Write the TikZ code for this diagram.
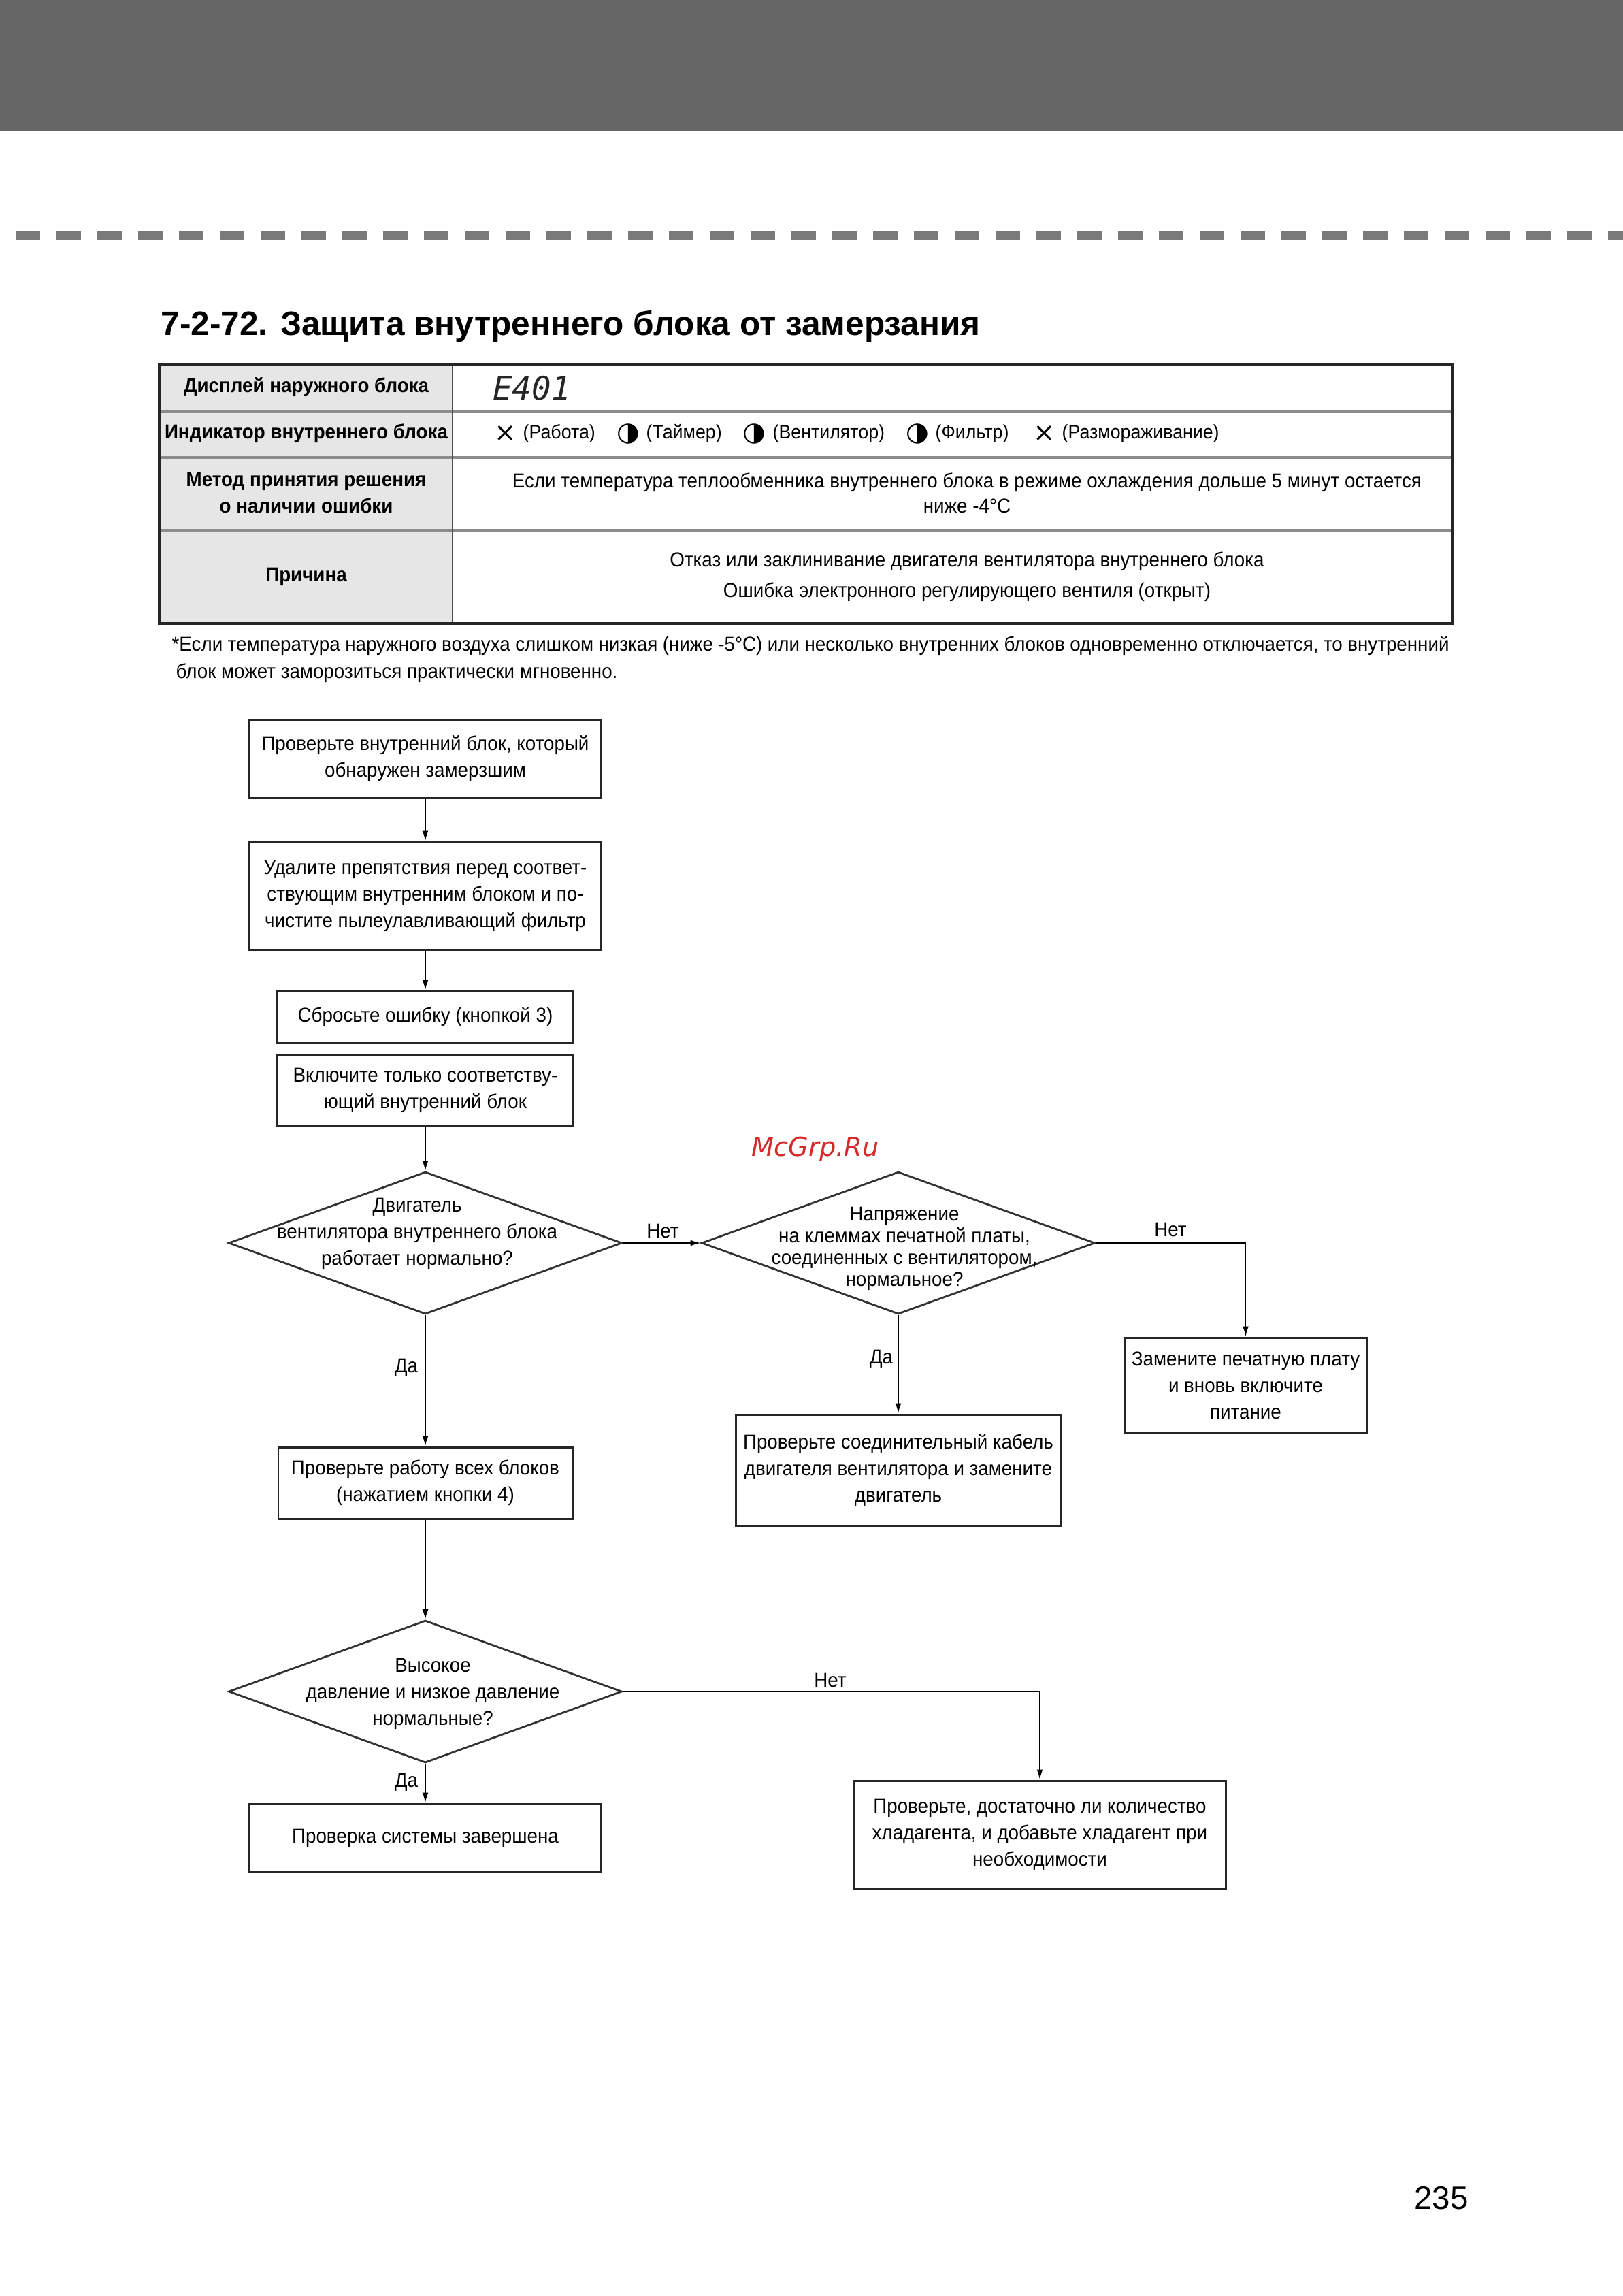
\documentclass[tikz,border=0pt]{standalone}
\usepackage{fontspec}
\setmainfont{Liberation Sans}[FakeStretch=0.94]
\newfontfamily\titlefont{Liberation Sans}
\newfontfamily\symfont{DejaVu Sans}
\newfontfamily\lcdfont{DejaVu Sans Mono}
\usetikzlibrary{arrows.meta,positioning,shapes.geometric}

\definecolor{barGray}{HTML}{666666}
\definecolor{dashGray}{HTML}{7A7A7A}
\definecolor{cellGray}{HTML}{E6E6E6}
\definecolor{ruleGray}{HTML}{8C8C8C}
\definecolor{markRed}{HTML}{D42A2A}

\newcommand{\flowfont}{\fontsize{8.4}{11.1}\selectfont}

\tikzset{
  stepbox/.style={draw=black!85, line width=0.85pt, align=center, inner sep=0pt, font=\flowfont},
  decision/.style={diamond, draw=black!80, line width=0.8pt, minimum width=5.78cm, minimum height=2.09cm, inner sep=0pt},
  asktext/.style={align=center, font=\flowfont},
  flowline/.style={line width=0.55pt, -{Latex[length=1.5mm,width=0.9mm]}},
  answer/.style={font=\flowfont},
  headcell/.style={align=center, font=\flowfont\bfseries},
  lampsym/.style={anchor=center, font=\symfont\fontsize{11}{11}\selectfont},
  lampname/.style={anchor=west, inner sep=0pt, font=\fontsize{8.1}{10}\selectfont},
}

\begin{document}
\begin{tikzpicture}[x=1cm, y=-1cm]
    % Page
    \useasboundingbox (0,0) rectangle (23.85,33.73);
    \fill[white] (0,0) rectangle (23.85,33.73);
    \fill[barGray] (0,0) rectangle (23.85,1.92);
    \draw[dashGray, line width=0.13cm, dash pattern=on 0.36cm off 0.24cm] (0.23,3.45) -- (23.85,3.45);

    % Title
    \node[anchor=base west, inner sep=0pt, font=\titlefont\fontsize{14.1}{16}\selectfont\bfseries] (title) at (2.36,4.92) {7-2-72. Защита внутреннего блока от замерзания};

    % Error table
    \fill[cellGray] (2.34,5.35) rectangle (6.65,9.16);
    \draw[ruleGray, line width=1.1pt] (2.34,6.04) -- (21.34,6.04);
    \draw[ruleGray, line width=1.1pt] (2.34,6.72) -- (21.34,6.72);
    \draw[ruleGray, line width=1.1pt] (2.34,7.79) -- (21.34,7.79);
    \draw[black!70, line width=0.6pt] (6.65,5.35) -- (6.65,9.16);
    \draw[black!85, line width=1.1pt] (2.34,5.35) rectangle (21.34,9.16);

    \node[headcell] (display) at (4.50,5.69) {Дисплей наружного блока};
    \node[headcell] (lamps) at (4.50,6.37) {Индикатор внутреннего блока};
    \node[headcell] (method) at (4.50,7.24) {Метод принятия решения\\о наличии ошибки};
    \node[headcell] (cause) at (4.50,8.47) {Причина};

    \node[anchor=west, font=\lcdfont\itshape\fontsize{13.5}{14}\selectfont, text=black!85] (code) at (7.12,5.70) {E401};

    \node[lampsym] (run) at (7.43,6.37) {×};
    \node[lampname] (runtxt) at (7.68,6.37) {(Работа)};
    \node[lampsym] (timer) at (9.23,6.37) {◑};
    \node[lampname] (timertxt) at (9.49,6.37) {(Таймер)};
    \node[lampsym] (fanlamp) at (11.08,6.37) {◑};
    \node[lampname] (fanlamptxt) at (11.35,6.37) {(Вентилятор)};
    \node[lampsym] (filter) at (13.48,6.37) {◑};
    \node[lampname] (filtertxt) at (13.74,6.37) {(Фильтр)};
    \node[lampsym] (defrost) at (15.35,6.37) {×};
    \node[lampname] (defrosttxt) at (15.60,6.37) {(Размораживание)};

    \node[align=center, font=\fontsize{8.4}{10.5}\selectfont] (rule) at (14.21,7.24) {Если температура теплообменника внутреннего блока в режиме охлаждения дольше 5 минут остается\\ниже -4°C};
    \node[align=center, font=\fontsize{8.4}{12.8}\selectfont] (reason) at (14.21,8.47) {Отказ или заклинивание двигателя вентилятора внутреннего блока\\Ошибка электронного регулирующего вентиля (открыт)};

    % Footnote
    \node[anchor=base west, font=\flowfont, inner sep=0pt] (note1) at (2.52,9.56) {\makebox[18.77cm][s]{*Если температура наружного воздуха слишком низкая (ниже -5°C) или несколько внутренних блоков одновременно отключается, то внутренний}};
    \node[anchor=base west, font=\flowfont, inner sep=0pt] (note2) at (2.58,9.96) {блок может заморозиться практически мгновенно.};

    % Flow chart
    \node[stepbox, minimum width=5.17cm, minimum height=1.15cm] (check) at (6.25,11.145) {Проверьте внутренний блок, который\\обнаружен замерзшим};
    \node[stepbox, minimum width=5.17cm, minimum height=1.58cm] (clean) at (6.25,13.16) {Удалите препятствия перед соответ-\\ствующим внутренним блоком и по-\\чистите пылеулавливающий фильтр};
    \node[stepbox, minimum width=4.35cm, minimum height=0.76cm] (reset) at (6.25,14.94) {Сбросьте ошибку (кнопкой 3)};
    \node[stepbox, minimum width=4.35cm, minimum height=1.05cm] (single) at (6.25,16.015) {Включите только соответству-\\ющий внутренний блок};

    \node[decision] (fan) at (6.25,18.26) {};
    \node[asktext] (fantxt) at (6.13,18.12) {Двигатель\\вентилятора внутреннего блока\\работает нормально?};
    \node[decision] (volt) at (13.2,18.26) {};
    \node[asktext, font=\fontsize{8.4}{9.1}\selectfont] (volttxt) at (13.29,18.34) {Напряжение\\на клеммах печатной платы,\\соединенных с вентилятором,\\нормальное?};

    \node[stepbox, minimum width=3.55cm, minimum height=1.40cm] (pcb) at (18.305,20.35) {Замените печатную плату\\и вновь включите\\питание};
    \node[stepbox, minimum width=4.78cm, minimum height=1.63cm] (cable) at (13.2,21.595) {Проверьте соединительный кабель\\двигателя вентилятора и замените\\двигатель};
    \node[stepbox, minimum width=4.32cm, minimum height=1.05cm] (allunits) at (6.25,21.785) {Проверьте работу всех блоков\\(нажатием кнопки 4)};

    \node[decision] (press) at (6.25,24.85) {};
    \node[asktext] (presstxt) at (6.36,24.88) {Высокое\\давление и низкое давление\\нормальные?};

    \node[stepbox, minimum width=5.17cm, minimum height=1.0cm] (done) at (6.25,27.0) {Проверка системы завершена};
    \node[stepbox, minimum width=5.46cm, minimum height=1.59cm] (refrig) at (15.28,26.955) {Проверьте, достаточно ли количество\\хладагента, и добавьте хладагент при\\необходимости};

    % Connectors
    \draw[flowline] (check) -- (clean);
    \draw[flowline] (clean) -- (reset);
    \draw[flowline] (single) -- (fan);
    \draw[flowline] (fan) -- (volt);
    \draw[flowline] (volt.east) -| (pcb.north);
    \draw[flowline] (volt) -- (cable);
    \draw[flowline] (fan) -- (allunits);
    \draw[flowline] (allunits) -- (press);
    \draw[flowline] (press) -- (done);
    \draw[flowline] (press.east) -| (refrig.north);

    % Answers
    \node[answer] (no1) at (9.74,18.08) {Нет};
    \node[answer] (no2) at (17.20,18.06) {Нет};
    \node[answer] (yes1) at (5.97,20.09) {Да};
    \node[answer] (yes2) at (12.95,19.96) {Да};
    \node[answer] (no3) at (12.20,24.68) {Нет};
    \node[answer] (yes3) at (5.97,26.18) {Да};

    % Watermark and page number
    \node[font=\symfont\itshape\fontsize{10.9}{12}\selectfont, text=markRed] (mark) at (11.98,16.88) {McGrp.Ru};
    \node[anchor=base, font=\titlefont\fontsize{13.5}{16}\selectfont] (page) at (21.18,32.45) {235};
\end{tikzpicture}
\end{document}
